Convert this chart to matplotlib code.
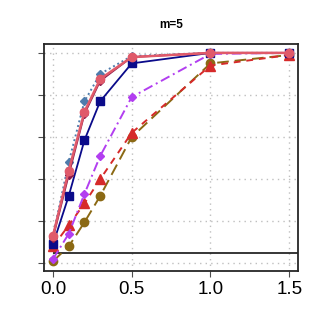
"""Power curves for m=5, redrawn in matplotlib."""

import matplotlib
matplotlib.use("Agg")
import matplotlib.pyplot as plt

plt.rcParams["font.family"] = ["Liberation Sans", "DejaVu Sans"]

X = [0.0, 0.1, 0.2, 0.3, 0.5, 1.0, 1.5]

BROWN_CIRCLE = [0.01, 0.08, 0.195, 0.32, 0.60, 0.95, 0.99]
RED_TRIANGLE = [0.08, 0.18, 0.285, 0.40, 0.62, 0.94, 0.99]
PURPLE_DIAMOND = [0.02, 0.14, 0.33, 0.51, 0.79, 0.995, 1.0]
NAVY_SQUARE = [0.09, 0.32, 0.585, 0.77, 0.95, 1.0, 1.0]
STEEL_DIAMOND = [0.13, 0.48, 0.77, 0.90, 0.985, 1.0, 1.0]
MAROON_DIAMOND = [0.12, 0.42, 0.71, 0.867, 0.98, 1.0, 1.0]
PINK_CIRCLE = [0.13, 0.44, 0.72, 0.876, 0.98, 1.0, 1.0]

ALPHA = 0.05
X_TICKS = [0.0, 0.5, 1.0, 1.5]
Y_TICKS = [0.0, 0.2, 0.4, 0.6, 0.8, 1.0]


def main() -> None:
    fig = plt.figure(figsize=(3.21, 3.27), dpi=100)
    ax = fig.add_axes([0.137, 0.171, 0.791, 0.693])

    ax.set_xlim(-0.057, 1.555)
    ax.set_ylim(-0.037, 1.04)
    ax.set_xticks(X_TICKS)
    ax.set_xticklabels([f"{t:.1f}" for t in X_TICKS], fontsize=13.5)
    ax.set_yticks(Y_TICKS)
    ax.set_yticklabels([])
    ax.tick_params(direction="out", length=4, width=0.8, color="0.3")
    ax.grid(True, color="0.75", ls=(0, (1, 3)), lw=1.0)
    ax.set_axisbelow(True)
    for sp in ax.spines.values():
        sp.set_linewidth(1.3)
        sp.set_color("0.15")

    ax.hlines(ALPHA, 0.0, 1.555, color="black", lw=1.1, zorder=2)

    ax.plot(X, BROWN_CIRCLE, color="#8b6914", ls=(0, (6, 3)), lw=1.4,
            marker="o", ms=6, zorder=3)
    ax.plot(X, RED_TRIANGLE, color="#d62a2a", ls=(0, (3.5, 3)), lw=1.4,
            marker="^", ms=7, zorder=3)
    ax.plot(X, PURPLE_DIAMOND, color="#b23ef0", ls=(0, (5, 2, 1, 2)), lw=1.4,
            marker="D", ms=4.5, zorder=3)
    ax.plot(X, NAVY_SQUARE, color="#0a0a8a", ls="-", lw=1.3,
            marker="s", ms=5.5, zorder=3)
    ax.plot(X, STEEL_DIAMOND, color="#4f7cac", ls=(0, (1, 1.5)), lw=1.4,
            marker="D", ms=4.5, zorder=3)
    ax.plot(X, MAROON_DIAMOND, color="#8b1a4a", ls="-", lw=1.3,
            marker="D", ms=4.5, zorder=3)
    ax.plot(X, PINK_CIRCLE, color="#e05a6a", ls="-", lw=1.8,
            marker="o", ms=6, zorder=4)

    ax.set_title("m=5", fontsize=8.5, fontweight="bold", pad=12)

    fig.savefig("out.png", dpi=100)
    plt.close(fig)


if __name__ == "__main__":
    main()
